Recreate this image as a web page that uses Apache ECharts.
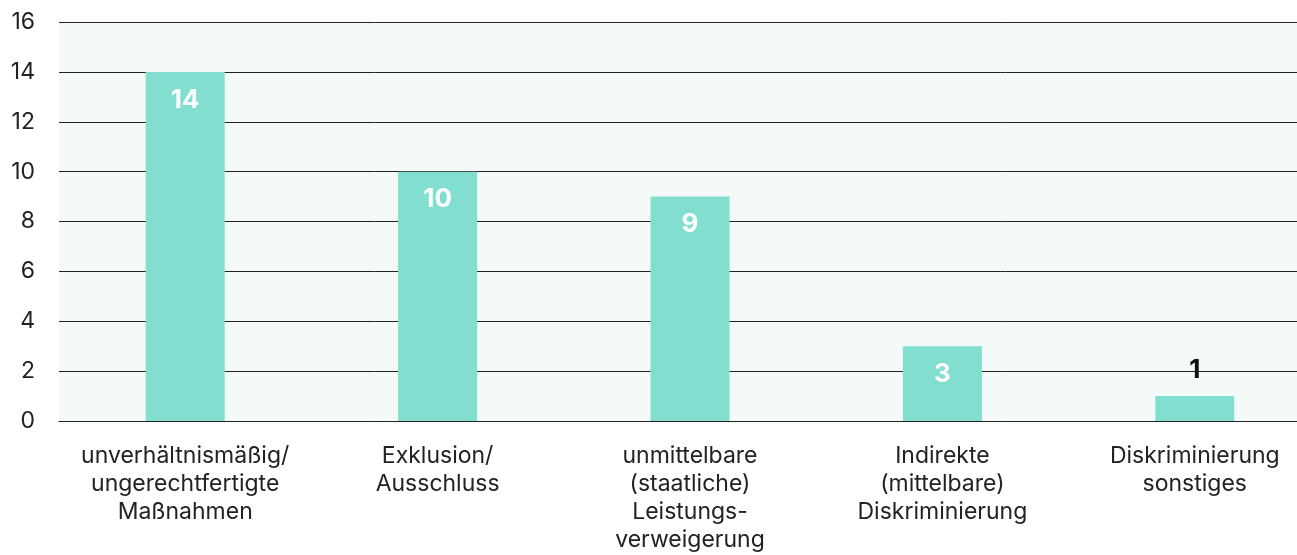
<!DOCTYPE html>
<html>
<head>
<meta charset="utf-8">
<script src="https://cdn.jsdelivr.net/npm/echarts@6/dist/echarts.min.js"></script>
<style>
  html, body { margin: 0; padding: 0; background: #fff; overflow: hidden; }
  /* the plot runs past the right edge in the reference, so the canvas is wider than the window */
  #chart { width: 1321px; height: 555px; }
</style>
</head>
<body>
<div id="chart"></div>
<script>
const categories = [
  'unverhältnismäßig/\nungerechtfertigte\nMaßnahmen',
  'Exklusion/\nAusschluss',
  'unmittelbare\n(staatliche)\nLeistungs-\nverweigerung',
  'Indirekte\n(mittelbare)\nDiskriminierung',
  'Diskriminierung\nsonstiges'
];
const values = [14, 10, 9, 3, 1];

const chart = echarts.init(document.getElementById('chart'));

const option = {
  animation: false,
  textStyle: { fontFamily: 'Inter' },
  grid: {
    left: 59,
    top: 22,
    bottom: 134,
    right: 0,
    show: true,
    backgroundColor: '#f4faf8',
    borderWidth: 0
  },
  xAxis: {
    type: 'category',
    data: categories,
    axisLine: { lineStyle: { color: '#222', width: 1 } },
    axisTick: { show: false },
    axisLabel: {
      interval: 0,
      margin: 21,
      fontSize: 23,
      lineHeight: 28,
      color: '#222',
      fontFamily: 'Inter'
    }
  },
  yAxis: {
    type: 'value',
    min: 0,
    max: 16,
    interval: 2,
    axisLine: { show: false },
    axisTick: { show: false },
    axisLabel: {
      margin: 24,
      fontSize: 23,
      color: '#222',
      fontFamily: 'Inter'
    },
    splitLine: { lineStyle: { color: '#222', width: 1 } }
  },
  series: [
    {
      type: 'bar',
      data: values.map(v => ({
        value: v,
        label: v < 2
          ? { position: 'top', color: '#111', distance: 13 }
          : { position: 'insideTop', color: '#fff', distance: 15 }
      })),
      barWidth: 79,
      itemStyle: { color: '#82dfcf' },
      label: {
        show: true,
        fontSize: 26,
        fontWeight: 'bold',
        fontFamily: 'Inter'
      }
    }
  ]
};

chart.setOption(option);
</script>
</body>
</html>
